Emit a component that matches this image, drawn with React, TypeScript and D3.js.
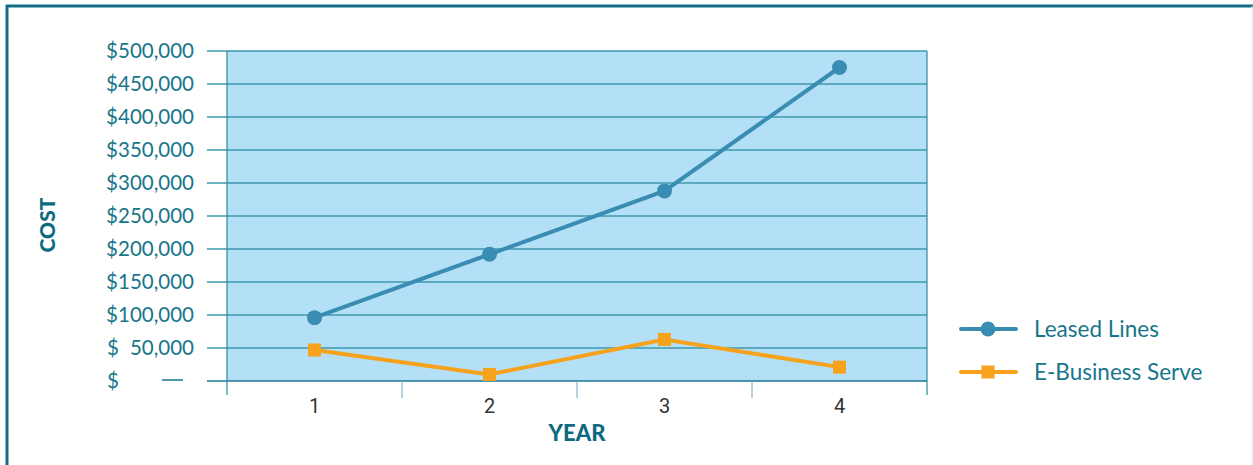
import { useEffect, useRef } from 'react';
import * as d3 from 'd3';

const years = ['1', '2', '3', '4'];
const leasedLines = [96000, 192000, 288000, 475000];
const eBusiness = [47000, 10000, 63000, 21000];
const yTicks = [0, 50000, 100000, 150000, 200000, 250000, 300000, 350000, 400000, 450000, 500000];

const seriesNames = ['Leased Lines', 'E-Business Serve'];

const TEAL = '#17768b';
const BLUE = '#3a8db2';
const ORANGE = '#f7a21d';

export default function App() {
    const ref = useRef<SVGSVGElement>(null);

    useEffect(() => {
        if (!ref.current) return;
        const svg = d3.select(ref.current);
        svg.selectAll('*').remove();

        const W = 1253, H = 465;
        const plot = { left: 227, right: 927, top: 51, bottom: 381 };

        // frame
        svg.append('rect').attr('x', 0).attr('y', 0).attr('width', W).attr('height', H).attr('fill', '#fff');
        svg.append('line').attr('x1', 7).attr('x2', 7).attr('y1', 5).attr('y2', H).attr('stroke', '#106f85').attr('stroke-width', 3);
        svg.append('line').attr('x1', 6).attr('x2', W).attr('y1', 6).attr('y2', 6).attr('stroke', '#106f85').attr('stroke-width', 3);
        svg.append('line').attr('x1', W - 1).attr('x2', W - 1).attr('y1', 6).attr('y2', H).attr('stroke', '#d8ecf2').attr('stroke-width', 1);

        const x = d3.scaleBand<string>().domain(years).range([plot.left, plot.right]);
        const y = d3.scaleLinear().domain([0, 500000]).range([plot.bottom, plot.top]);

        svg.append('rect')
            .attr('x', plot.left).attr('y', plot.top)
            .attr('width', plot.right - plot.left).attr('height', plot.bottom - plot.top)
            .attr('fill', '#b3e0f6');

        // gridlines
        svg.append('g').selectAll('line').data(yTicks).join('line')
            .attr('x1', 207).attr('x2', plot.right)
            .attr('y1', d => y(d)).attr('y2', d => y(d))
            .attr('stroke', d => d === 0 ? '#1f7690' : '#3f98ad')
            .attr('stroke-width', d => d === 0 ? 1.5 : 1.3);

        // plot borders
        svg.append('line').attr('x1', plot.left).attr('x2', plot.left).attr('y1', plot.top).attr('y2', 395).attr('stroke', '#2f86a0').attr('stroke-width', 1.2);
        svg.append('line').attr('x1', plot.right).attr('x2', plot.right).attr('y1', plot.top).attr('y2', 395).attr('stroke', '#2f86a0').attr('stroke-width', 1.2);

        // x ticks between bands
        const bounds = years.slice(1).map(d => x(d)!);
        svg.append('g').selectAll('line').data(bounds).join('line')
            .attr('x1', d => d).attr('x2', d => d)
            .attr('y1', plot.bottom).attr('y2', 398)
            .attr('stroke', '#6aaac0').attr('stroke-width', 1);

        // y labels
        const yl = svg.append('g').attr('font-family', 'Lato, sans-serif').attr('font-size', 20.5).attr('fill', TEAL);
        yTicks.forEach(t => {
            if (t >= 100000) {
                yl.append('text').attr('x', 194).attr('y', y(t)).attr('dy', '0.35em').attr('text-anchor', 'end')
                    .text('$' + d3.format(',')(t));
            } else {
                yl.append('text').attr('x', 107).attr('y', y(t)).attr('dy', '0.35em').text('$');
                if (t === 0) {
                    yl.append('line').attr('x1', 162).attr('x2', 183).attr('y1', y(t) - 1).attr('y2', y(t) - 1)
                        .attr('stroke', TEAL).attr('stroke-width', 1.5);
                } else {
                    yl.append('text').attr('x', 194).attr('y', y(t)).attr('dy', '0.35em').attr('text-anchor', 'end')
                        .text(d3.format(',')(t));
                }
            }
        });

        // x labels
        svg.append('g').selectAll('text').data(years).join('text')
            .attr('x', d => x(d)! + x.bandwidth() / 2).attr('y', 406)
            .attr('dy', '0.35em').attr('text-anchor', 'middle')
            .attr('font-family', '"Liberation Sans Narrow", "Roboto", sans-serif').attr('font-size', 20)
            .attr('fill', '#333').text(d => d);

        // axis titles
        svg.append('text').attr('x', 577).attr('y', 433).attr('dy', '0.35em').attr('text-anchor', 'middle')
            .attr('font-family', 'Lato, sans-serif').attr('font-weight', 900).attr('font-size', 22)
            .attr('fill', '#0f6a80').text('YEAR');
        svg.append('text').attr('transform', 'translate(48,225) rotate(-90)').attr('dy', '0.35em').attr('text-anchor', 'middle')
            .attr('font-family', 'Lato, sans-serif').attr('font-weight', 900).attr('font-size', 21)
            .attr('fill', '#0f6a80').text('COST');

        const cx = (d: string) => x(d)! + x.bandwidth() / 2;
        const line = d3.line<number>().x((_, i) => cx(years[i])).y(d => y(d));

        svg.append('path').datum(eBusiness).attr('d', line).attr('fill', 'none')
            .attr('stroke', ORANGE).attr('stroke-width', 4);
        svg.append('g').selectAll('rect').data(eBusiness).join('rect')
            .attr('x', (_, i) => cx(years[i]) - 6.5).attr('y', d => y(d) - 6.5)
            .attr('width', 13).attr('height', 13).attr('fill', ORANGE);

        svg.append('path').datum(leasedLines).attr('d', line).attr('fill', 'none')
            .attr('stroke', BLUE).attr('stroke-width', 4);
        svg.append('g').selectAll('circle').data(leasedLines).join('circle')
            .attr('cx', (_, i) => cx(years[i])).attr('cy', d => y(d))
            .attr('r', 7.5).attr('fill', BLUE);

        // legend
        const colors = [BLUE, ORANGE];
        seriesNames.forEach((name, i) => {
            const ly = 329 + i * 43;
            const g = svg.append('g');
            g.append('line').attr('x1', 961).attr('x2', 1016).attr('y1', ly).attr('y2', ly)
                .attr('stroke', colors[i]).attr('stroke-width', 4).attr('stroke-linecap', 'round');
            if (i === 0) g.append('circle').attr('cx', 988).attr('cy', ly).attr('r', 7.5).attr('fill', colors[i]);
            else g.append('rect').attr('x', 981.5).attr('y', ly - 6.5).attr('width', 13).attr('height', 13).attr('fill', colors[i]);
            g.append('text').attr('x', 1034).attr('y', ly).attr('dy', '0.35em')
                .attr('font-family', 'Lato, sans-serif').attr('font-size', 22.5).attr('fill', TEAL).text(name);
        });
    }, []);

    return (
        <svg ref={ref} width={1253} height={465}
            style={{ position: 'absolute', left: 0, top: 0, display: 'block' }} />
    );
}
